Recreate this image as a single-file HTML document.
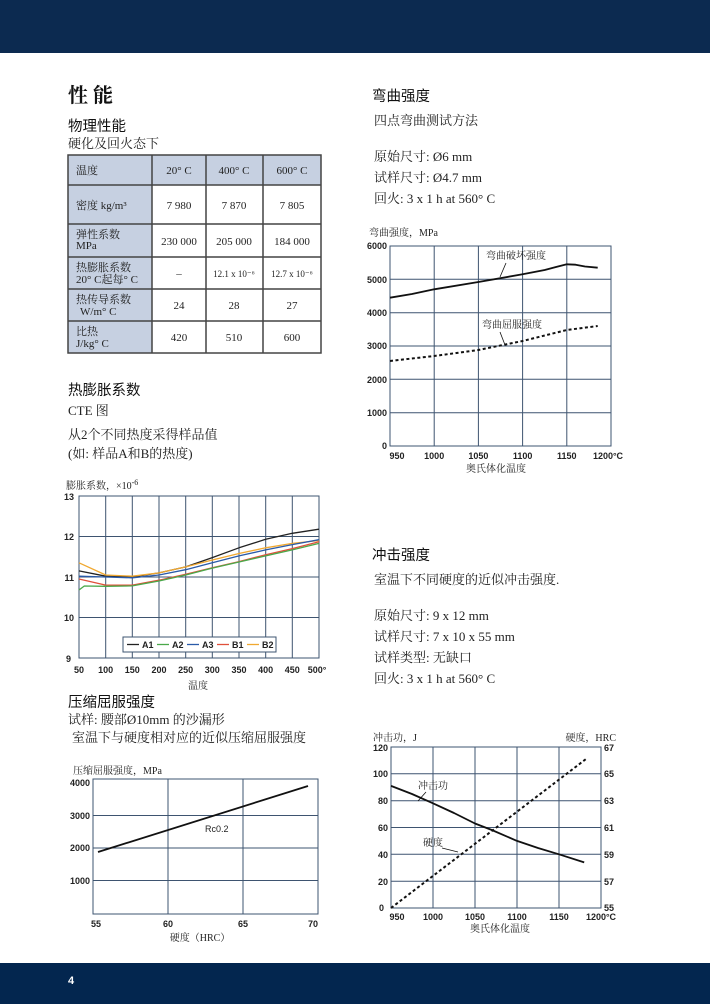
<!DOCTYPE html>
<html><head><meta charset="utf-8"><style>
html,body{margin:0;padding:0;background:#fff;}
svg{display:block}
.h1{font-family:"Liberation Serif","Noto Serif CJK SC",serif;font-size:20px;font-weight:bold;fill:#111}
.h2{font-family:"Liberation Sans","Noto Sans CJK SC",sans-serif;font-size:14.5px;fill:#111}
.t{font-family:"Liberation Serif","Noto Serif CJK SC",serif;font-size:13px;fill:#222}
.s{font-family:"Liberation Serif","Noto Serif CJK SC",serif;font-size:10px;fill:#222}
.ax{font-family:"Liberation Sans","Noto Sans CJK SC",sans-serif;font-size:9px;font-weight:bold;fill:#222}
.tb{font-family:"Liberation Serif","Noto Serif CJK SC",serif;font-size:11px;fill:#222}
.g{stroke:#3e5470;stroke-width:1;fill:none}
</style></head><body>
<svg width="710" height="1004" viewBox="0 0 710 1004" xmlns="http://www.w3.org/2000/svg">
<rect x="0" y="0" width="710" height="53" fill="#0c2a50"/>
<rect x="0" y="963" width="710" height="41" fill="#03264f"/>
<text x="68" y="984" font-family="Liberation Sans,sans-serif" font-size="11" fill="#fff" font-weight="bold">4</text>

<!-- left text -->
<text class="h1" x="68" y="102">性 能</text>
<text class="h2" x="68" y="131">物理性能</text>
<text class="t" x="68" y="148">硬化及回火态下</text>

<!-- table -->
<rect x="68" y="155" width="253" height="30" fill="#c6d0e1"/>
<rect x="68" y="185" width="84" height="168" fill="#c6d0e1"/>
<g stroke="#444" stroke-width="1.5" fill="none">
<rect x="68" y="155" width="253" height="198"/>
<line x1="68" y1="185" x2="321" y2="185"/><line x1="68" y1="224" x2="321" y2="224"/>
<line x1="68" y1="257" x2="321" y2="257"/><line x1="68" y1="289" x2="321" y2="289"/>
<line x1="68" y1="321" x2="321" y2="321"/>
<line x1="152" y1="155" x2="152" y2="353"/><line x1="206" y1="155" x2="206" y2="353"/><line x1="263" y1="155" x2="263" y2="353"/>
</g>
<g class="tb">
<text x="76" y="174">温度</text>
<text x="179" y="174" text-anchor="middle">20° C</text><text x="234" y="174" text-anchor="middle">400° C</text><text x="292" y="174" text-anchor="middle">600° C</text>
<text x="76" y="209">密度  kg/m³</text>
<text x="179" y="209" text-anchor="middle">7 980</text><text x="234" y="209" text-anchor="middle">7 870</text><text x="292" y="209" text-anchor="middle">7 805</text>
<text x="76" y="238">弹性系数</text><text x="76" y="249">MPa</text>
<text x="179" y="245" text-anchor="middle">230 000</text><text x="234" y="245" text-anchor="middle">205 000</text><text x="292" y="245" text-anchor="middle">184 000</text>
<text x="76" y="271">热膨胀系数</text><text x="76" y="283">20° C起每° C</text>
<text x="179" y="277" text-anchor="middle">–</text><text x="234" y="277" text-anchor="middle" font-size="9">12.1 x 10⁻⁶</text><text x="292" y="277" text-anchor="middle" font-size="9">12.7 x 10⁻⁶</text>
<text x="76" y="303">热传导系数</text><text x="80" y="315">W/m° C</text>
<text x="179" y="309" text-anchor="middle">24</text><text x="234" y="309" text-anchor="middle">28</text><text x="292" y="309" text-anchor="middle">27</text>
<text x="76" y="335">比热</text><text x="76" y="347">J/kg° C</text>
<text x="179" y="341" text-anchor="middle">420</text><text x="234" y="341" text-anchor="middle">510</text><text x="292" y="341" text-anchor="middle">600</text>
</g>

<text class="h2" x="68" y="395">热膨胀系数</text>
<text class="t" x="68" y="415">CTE 图</text>
<text class="t" x="68" y="439">从2个不同热度采得样品值</text>
<text class="t" x="68" y="458">(如: 样品A和B的热度)</text>
<text class="s" x="66" y="489">膨胀系数，×10<tspan dy="-4" font-size="8">-6</tspan></text>

<!-- CTE chart -->
<g class="g">
<rect x="79" y="496" width="240" height="162"/>
<line x1="105.7" y1="496" x2="105.7" y2="658"/><line x1="132.3" y1="496" x2="132.3" y2="658"/><line x1="159" y1="496" x2="159" y2="658"/>
<line x1="185.7" y1="496" x2="185.7" y2="658"/><line x1="212.3" y1="496" x2="212.3" y2="658"/><line x1="239" y1="496" x2="239" y2="658"/>
<line x1="265.7" y1="496" x2="265.7" y2="658"/><line x1="292.3" y1="496" x2="292.3" y2="658"/>
<line x1="79" y1="536.5" x2="319" y2="536.5"/><line x1="79" y1="577" x2="319" y2="577"/><line x1="79" y1="617.5" x2="319" y2="617.5"/>
</g>
<g fill="none" stroke-width="1.3" stroke-linejoin="round">
<polyline stroke="#222" points="79,570.9 105.7,576.2 132.3,577 159,572.9 185.7,566.9 212.3,557.6 239,547.8 265.7,539.3 292.3,533.3 319,529.2"/>
<polyline stroke="#f0a830" points="79,562.8 105.7,575 132.3,576.2 159,572.9 185.7,566.9 212.3,560 239,553.5 265.7,547.8 292.3,543.4 319,540.5"/>
<polyline stroke="#2a5aa8" points="79,576.2 105.7,577 132.3,577.8 159,575 185.7,569.7 212.3,562.8 239,555.9 265.7,549.9 292.3,544.6 319,539.7"/>
<polyline stroke="#e0503a" points="79,579 105.7,585.1 132.3,585.1 159,580.2 185.7,574.2 212.3,567.7 239,561.6 265.7,554.7 292.3,548.6 319,541.8"/>
<polyline stroke="#4aa84a" points="79,590 84.3,586 105.7,586.3 132.3,585.9 159,581 185.7,575 212.3,568.1 239,562 265.7,555.9 292.3,549.9 319,543.4"/>
</g>
<rect x="123" y="637" width="153" height="15" fill="#fff" stroke="#3e5470"/>
<g class="ax" font-weight="normal">
<line x1="127" y1="644.5" x2="139" y2="644.5" stroke="#222" stroke-width="1.3"/><text x="142" y="648">A1</text>
<line x1="157" y1="644.5" x2="169" y2="644.5" stroke="#4aa84a" stroke-width="1.3"/><text x="172" y="648">A2</text>
<line x1="187" y1="644.5" x2="199" y2="644.5" stroke="#2a5aa8" stroke-width="1.3"/><text x="202" y="648">A3</text>
<line x1="217" y1="644.5" x2="229" y2="644.5" stroke="#e0503a" stroke-width="1.3"/><text x="232" y="648">B1</text>
<line x1="247" y1="644.5" x2="259" y2="644.5" stroke="#f0a830" stroke-width="1.3"/><text x="262" y="648">B2</text>
</g>
<g class="ax">
<text x="74" y="500" text-anchor="end">13</text><text x="74" y="540" text-anchor="end">12</text><text x="74" y="581" text-anchor="end">11</text>
<text x="74" y="621" text-anchor="end">10</text><text x="71" y="662" text-anchor="end">9</text>
<text x="79" y="673" text-anchor="middle">50</text><text x="105.7" y="673" text-anchor="middle">100</text><text x="132.3" y="673" text-anchor="middle">150</text>
<text x="159" y="673" text-anchor="middle">200</text><text x="185.7" y="673" text-anchor="middle">250</text><text x="212.3" y="673" text-anchor="middle">300</text>
<text x="239" y="673" text-anchor="middle">350</text><text x="265.7" y="673" text-anchor="middle">400</text><text x="292.3" y="673" text-anchor="middle">450</text>
<text x="317" y="673" text-anchor="middle">500°</text>
</g>
<text class="s" x="198" y="689" text-anchor="middle">温度</text>

<text class="h2" x="68" y="707">压缩屈服强度</text>
<text class="t" x="68" y="724">试样: 腰部Ø10mm 的沙漏形</text>
<text class="t" x="72" y="742">室温下与硬度相对应的近似压缩屈服强度</text>
<text class="s" x="73" y="774">压缩屈服强度，MPa</text>

<!-- compression chart -->
<g class="g">
<rect x="93" y="779" width="225" height="135"/>
<line x1="168" y1="779" x2="168" y2="914"/><line x1="243" y1="779" x2="243" y2="914"/>
<line x1="93" y1="815.5" x2="318" y2="815.5"/><line x1="93" y1="848" x2="318" y2="848"/><line x1="93" y1="880.5" x2="318" y2="880.5"/>
</g>
<line x1="98" y1="852" x2="308" y2="786" stroke="#111" stroke-width="1.8"/>
<text x="205" y="832" font-family="Liberation Sans,sans-serif" font-size="9" fill="#222">Rc0.2</text>
<g class="ax">
<text x="90" y="786" text-anchor="end">4000</text><text x="90" y="819" text-anchor="end">3000</text><text x="90" y="851" text-anchor="end">2000</text><text x="90" y="884" text-anchor="end">1000</text>
<text x="96" y="927" text-anchor="middle">55</text><text x="168" y="927" text-anchor="middle">60</text><text x="243" y="927" text-anchor="middle">65</text><text x="313" y="927" text-anchor="middle">70</text>
</g>
<text class="s" x="200" y="941" text-anchor="middle">硬度（HRC）</text>

<!-- right column -->
<text class="h2" x="372" y="101">弯曲强度</text>
<text class="t" x="374" y="125">四点弯曲测试方法</text>
<text class="t" x="374" y="161">原始尺寸: Ø6 mm</text>
<text class="t" x="374" y="182">试样尺寸: Ø4.7 mm</text>
<text class="t" x="374" y="203">回火: 3 x 1 h at 560° C</text>
<text class="s" x="369" y="236">弯曲强度，MPa</text>

<g class="g">
<rect x="390" y="246" width="221" height="200"/>
<line x1="434.2" y1="246" x2="434.2" y2="446"/><line x1="478.4" y1="246" x2="478.4" y2="446"/><line x1="522.6" y1="246" x2="522.6" y2="446"/><line x1="566.8" y1="246" x2="566.8" y2="446"/>
<line x1="390" y1="279.3" x2="611" y2="279.3"/><line x1="390" y1="312.7" x2="611" y2="312.7"/><line x1="390" y1="346" x2="611" y2="346"/>
<line x1="390" y1="379.3" x2="611" y2="379.3"/><line x1="390" y1="412.7" x2="611" y2="412.7"/>
</g>
<polyline fill="none" stroke="#111" stroke-width="1.8" stroke-linejoin="round" points="390,297.7 412,294 434.2,289.3 478.4,282 522.6,274.3 544.7,270 556,267 566.8,264.3 575.6,264.7 585,266.5 597.7,267.7"/>
<polyline fill="none" stroke="#111" stroke-width="2" stroke-dasharray="3,2.5" points="390,361 434.2,356 478.4,350 522.6,341 566.8,330 597.7,326"/>
<text class="s" x="486" y="259">弯曲破坏强度</text>
<line x1="506" y1="263" x2="500" y2="277" stroke="#111" stroke-width="0.8"/>
<text class="s" x="482" y="328">弯曲屈服强度</text>
<line x1="500" y1="332" x2="505" y2="345" stroke="#111" stroke-width="0.8"/>
<g class="ax">
<text x="387" y="249" text-anchor="end">6000</text><text x="387" y="283" text-anchor="end">5000</text><text x="387" y="316" text-anchor="end">4000</text>
<text x="387" y="349" text-anchor="end">3000</text><text x="387" y="383" text-anchor="end">2000</text><text x="387" y="416" text-anchor="end">1000</text><text x="387" y="449" text-anchor="end">0</text>
<text x="397" y="459" text-anchor="middle">950</text><text x="434.2" y="459" text-anchor="middle">1000</text><text x="478.4" y="459" text-anchor="middle">1050</text>
<text x="522.6" y="459" text-anchor="middle">1100</text><text x="566.8" y="459" text-anchor="middle">1150</text><text x="608" y="459" text-anchor="middle">1200°C</text>
</g>
<text class="s" x="496" y="472" text-anchor="middle">奥氏体化温度</text>

<text class="h2" x="372" y="560">冲击强度</text>
<text class="t" x="374" y="584">室温下不同硬度的近似冲击强度.</text>
<text class="t" x="374" y="620">原始尺寸: 9 x 12 mm</text>
<text class="t" x="374" y="641">试样尺寸: 7 x 10 x 55 mm</text>
<text class="t" x="374" y="662">试样类型: 无缺口</text>
<text class="t" x="374" y="683">回火: 3 x 1 h at 560° C</text>
<text class="s" x="373" y="741">冲击功，J</text>
<text class="s" x="616" y="741" text-anchor="end">硬度，HRC</text>

<g class="g">
<rect x="391" y="747" width="210" height="161"/>
<line x1="433" y1="747" x2="433" y2="908"/><line x1="475" y1="747" x2="475" y2="908"/><line x1="517" y1="747" x2="517" y2="908"/><line x1="559" y1="747" x2="559" y2="908"/>
<line x1="391" y1="773.8" x2="601" y2="773.8"/><line x1="391" y1="800.7" x2="601" y2="800.7"/><line x1="391" y1="827.5" x2="601" y2="827.5"/>
<line x1="391" y1="854.3" x2="601" y2="854.3"/><line x1="391" y1="881.2" x2="601" y2="881.2"/>
</g>
<polyline fill="none" stroke="#111" stroke-width="1.8" stroke-linejoin="round" points="391,785.9 412,794 433,803.3 454,813 475,823.5 491.8,830 517,840.9 538,848 559,854.3 584.2,862.4"/>
<line x1="391" y1="908" x2="586" y2="759" stroke="#111" stroke-width="2" stroke-dasharray="3,2.5"/>
<text class="s" x="418" y="789">冲击功</text>
<line x1="426" y1="792" x2="418" y2="801" stroke="#111" stroke-width="0.8"/>
<text class="s" x="423" y="846">硬度</text>
<line x1="442" y1="848" x2="458" y2="852" stroke="#111" stroke-width="0.8"/>
<g class="ax">
<text x="388" y="751" text-anchor="end">120</text><text x="388" y="777" text-anchor="end">100</text><text x="388" y="804" text-anchor="end">80</text>
<text x="388" y="831" text-anchor="end">60</text><text x="388" y="858" text-anchor="end">40</text><text x="388" y="885" text-anchor="end">20</text><text x="384" y="911" text-anchor="end">0</text>
<text x="604" y="751">67</text><text x="604" y="777">65</text><text x="604" y="804">63</text><text x="604" y="831">61</text>
<text x="604" y="858">59</text><text x="604" y="885">57</text><text x="604" y="911">55</text>
<text x="397" y="920" text-anchor="middle">950</text><text x="433" y="920" text-anchor="middle">1000</text><text x="475" y="920" text-anchor="middle">1050</text>
<text x="517" y="920" text-anchor="middle">1100</text><text x="559" y="920" text-anchor="middle">1150</text><text x="601" y="920" text-anchor="middle">1200°C</text>
</g>
<text class="s" x="500" y="932" text-anchor="middle">奥氏体化温度</text>
</svg>
</body></html>
